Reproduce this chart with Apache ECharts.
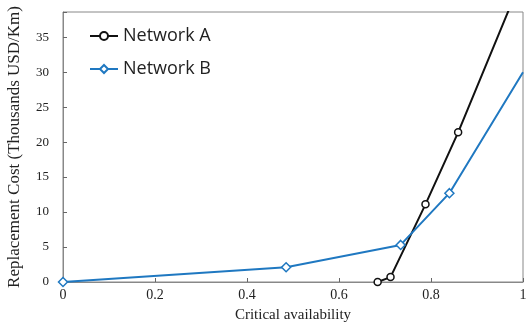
<!DOCTYPE html>
<html>
<head>
<meta charset="utf-8">
<script src="https://cdn.jsdelivr.net/npm/echarts@6/dist/echarts.min.js"></script>
<style>
  html, body { margin: 0; padding: 0; background: #fff; }
  #chart { width: 526px; height: 328px; }
</style>
</head>
<body>
<div id="chart"></div>
<script>
// data
var netA_x = [0.684, 0.712, 0.788, 0.859, 1.0];
var netA_y = [0, 0.7, 11.1, 21.4, 43.8];
var netB_x = [0, 0.485, 0.734, 0.84, 1.0];
var netB_y = [0, 2.1, 5.3, 12.7, 30];
var xTicks = [0, 0.2, 0.4, 0.6, 0.8, 1];
var yTicks = [0, 5, 10, 15, 20, 25, 30, 35];

// last point of each line runs to the frame without a marker
function pairs(xs, ys) {
    var out = [];
    for (var i = 0; i < xs.length; i++) {
        if (i === xs.length - 1) out.push({ value: [xs[i], ys[i]], symbol: 'none' });
        else out.push([xs[i], ys[i]]);
    }
    return out;
}

var myChart = echarts.init(document.getElementById('chart'));
var serif = '"Liberation Serif", "DejaVu Serif", serif';
var option = {
    animation: false,
    grid: { left: 63, right: 3, top: 12, bottom: 46, outerBoundsMode: 'none', show: true, borderColor: '#888', borderWidth: 1 },
    legend: {
        left: 84, top: 22, orient: 'vertical', itemGap: 15,
        itemWidth: 28, itemHeight: 10,
        textStyle: { fontFamily: '"Open Sans", "Noto Sans", sans-serif', fontSize: 18, color: '#222' },
        data: ['Network A', 'Network B']
    },
    xAxis: {
        type: 'value', min: 0, max: 1, interval: 0.2,
        name: 'Critical availability', nameLocation: 'middle', nameGap: 26,
        nameTextStyle: { fontFamily: serif, fontSize: 15, color: '#222' },
        axisLine: { lineStyle: { color: '#888' } },
        axisTick: { inside: true, length: 4, lineStyle: { color: '#666' } },
        splitLine: { show: false },
        axisLabel: {
            fontFamily: serif, fontSize: 14, color: '#222', margin: 6,
            formatter: function (v) { return xTicks.indexOf(Math.round(v * 10) / 10) >= 0 ? String(Math.round(v * 10) / 10) : ''; }
        }
    },
    yAxis: {
        type: 'value', min: 0, max: 38.6, interval: 5,
        name: 'Replacement Cost (Thousands USD/Km)', nameLocation: 'middle', nameGap: 40,
        nameTextStyle: { fontFamily: serif, fontSize: 17, color: '#222' },
        axisLine: { show: true, lineStyle: { color: '#888' } },
        axisTick: { show: true, inside: true, length: 4, lineStyle: { color: '#666' } },
        splitLine: { show: false },
        axisLabel: {
            fontFamily: serif, fontSize: 13, color: '#222', margin: 14,
            formatter: function (v) { return yTicks.indexOf(v) >= 0 ? String(v) : ''; }
        }
    },
    series: [
        {
            name: 'Network A', type: 'line', data: pairs(netA_x, netA_y),
            symbol: 'circle', symbolSize: 7, clip: true,
            lineStyle: { color: '#111', width: 2 },
            itemStyle: { color: '#fff', borderColor: '#111', borderWidth: 1.5 }
        },
        {
            name: 'Network B', type: 'line', data: pairs(netB_x, netB_y),
            symbol: 'diamond', symbolSize: 9, clip: true,
            lineStyle: { color: '#1f78c1', width: 2 },
            itemStyle: { color: '#fff', borderColor: '#1f78c1', borderWidth: 1.5 }
        }
    ]
};
myChart.setOption(option);
</script>
</body>
</html>
